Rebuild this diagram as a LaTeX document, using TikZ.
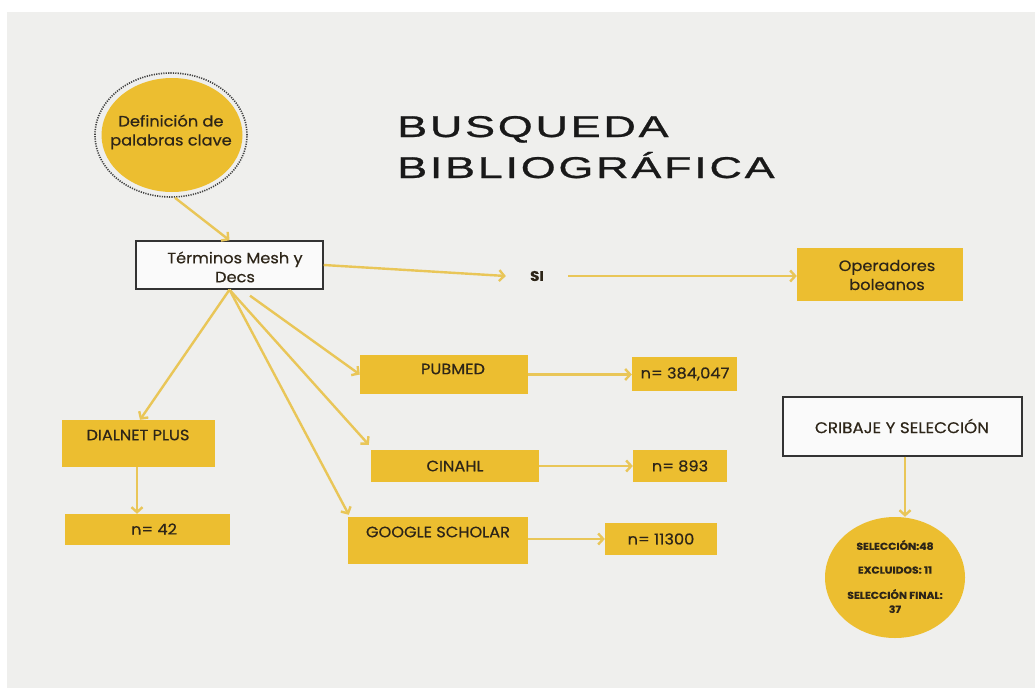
\documentclass[tikz,border=0pt]{standalone}
\usepackage{fontspec}
\setmainfont{Poppins}[FakeStretch=1.08,FakeBold=0.5]
\newfontfamily\titlefont[FakeStretch=1.5,LetterSpace=9,FakeBold=0.9]{Liberation Sans}
\usetikzlibrary{arrows.meta,shapes.geometric}
\definecolor{bgc}{RGB}{239,239,237}
\definecolor{yel}{RGB}{236,190,48}
\definecolor{arr}{RGB}{233,198,88}
\definecolor{txt}{RGB}{45,37,24}
\begin{document}
\begin{tikzpicture}[x=1pt,y=-1pt,
 ybox/.style={fill=yel,draw=none,inner sep=0pt},
 wbox/.style={fill=white!70!bgc,draw=black!80,line width=1.4pt,inner sep=0pt},
 lbl/.style={text=txt,font=\fontsize{15}{19}\selectfont,inner sep=0pt,align=center},
 small/.style={text=txt,font=\fontsize{10}{11}\selectfont\bfseries,inner sep=0pt,align=center},
 con/.style={draw=arr,line width=2.4pt,-{Straight Barb[length=5pt,width=11pt,line width=2.4pt]}},
]
\fill[white] (0,0) rectangle (1035,688);
\fill[bgc] (7,12) rectangle (1035,688);
\useasboundingbox (0,0) rectangle (1035,688);

% title
\node[anchor=base west,inner sep=0pt,text=black!90,font=\titlefont\fontsize{30}{30}\selectfont] (t1) at (397,137) {BUSQUEDA};
\node[anchor=base west,inner sep=0pt,text=black!90,font=\titlefont\fontsize{30}{30}\selectfont] (t2) at (397,178) {BIBLIOGRÁFICA};

% definition circle
\node[ellipse,draw=black!75,dash pattern=on 1.2pt off 1.2pt,line width=1.6pt,minimum width=152pt,minimum height=124pt,inner sep=0pt] (defo) at (171,135) {};
\node[ellipse,fill=yel,minimum width=141pt,minimum height=114pt,inner sep=0pt] (def) at (172,135) {};
\node[lbl] (deft) at (171,132) {Definición de\\palabras clave};

% terms
\node[wbox,minimum width=187pt,minimum height=48pt] (term) at (229.5,265) {};
\node[lbl] (termt) at (235,267) {Términos Mesh y\\Decs};

\node[text=txt,font=\fontsize{14}{16}\selectfont\bfseries,inner sep=0pt,minimum width=62pt] (si) at (537,276) {SI};
\node[ybox,minimum width=166pt,minimum height=53pt] (op) at (880,274.5) {};
\node[lbl] (opt) at (887,275) {Operadores\\boleanos};

% databases
\node[ybox,minimum width=168pt,minimum height=39pt] (pub) at (444,374.5) {};
\node[lbl] (pubt) at (453,369) {PUBMED};
\node[ybox,minimum width=105pt,minimum height=34pt] (n1) at (684.5,374) {};
\node[lbl] (n1t) at (685,374) {n= 384,047};

\node[ybox,minimum width=153pt,minimum height=47pt] (dial) at (138.5,443.5) {};
\node[lbl] (dialt) at (138,435) {DIALNET PLUS};
\node[ybox,minimum width=165pt,minimum height=31pt] (n42) at (147.5,529.5) {};
\node[lbl] (n42t) at (154,529) {n= 42};

\node[ybox,minimum width=168pt,minimum height=32pt] (cin) at (455,466) {};
\node[lbl] (cint) at (455,466) {CINAHL};
\node[ybox,minimum width=94pt,minimum height=32pt] (n2) at (680,466) {};
\node[lbl] (n2t) at (680,466) {n= 893};

\node[ybox,minimum width=180pt,minimum height=47pt] (goo) at (438,540.5) {};
\node[lbl] (goot) at (438,532) {GOOGLE SCHOLAR};
\node[ybox,minimum width=112pt,minimum height=32pt] (n3) at (661,539) {};
\node[lbl] (n3t) at (661,539) {n= 11300};

% screening
\node[wbox,minimum width=239pt,minimum height=59pt] (crib) at (902.5,426.5) {};
\node[lbl,font=\fontsize{15.5}{18}\selectfont] (cribt) at (902,426) {CRIBAJE Y SELECCIÓN};
\node[ellipse,fill=yel,minimum width=140pt,minimum height=121pt,inner sep=0pt] (sel) at (895,577.5) {};
\node[small] (s1) at (895,545) {SELECCIÓN:48};
\node[small] (s2) at (895,570) {EXCLUIDOS: 11};
\node[small,font=\fontsize{10}{14}\selectfont\bfseries] (s3) at (895,601) {SELECCIÓN FINAL:\\37};

% connectors
\draw[con] ([xshift=4pt]defo.south) -- (term.north);
\draw[con] (term.east) -- (si.west);
\draw[con] (si.east) -- (si.east -| op.west);
\draw[con] (term.south) -- ([xshift=1.5pt]dial.north);
\draw[con] ([xshift=20.5pt,yshift=-6pt]term.south) -- (pub.west);
\draw[con] (term.south) -- ([xshift=-2pt,yshift=5pt]cin.north west);
\draw[con] (term.south) -- ([xshift=1pt,yshift=2pt]goo.north west);
\draw[con] (pub.east) -- (pub.east -| n1.west);
\draw[con] (cin.east) -- (cin.east -| n2.west);
\draw[con] ([yshift=1.5pt]goo.east) -- ([yshift=1.5pt]goo.east -| n3.west);
\draw[con] ([xshift=-1.5pt]dial.south) -- ([xshift=-1.5pt]dial.south |- n42.north);
\draw[con] ([xshift=2.5pt]crib.south) -- ([xshift=2.5pt]crib.south |- sel.north);
\end{tikzpicture}
\end{document}
